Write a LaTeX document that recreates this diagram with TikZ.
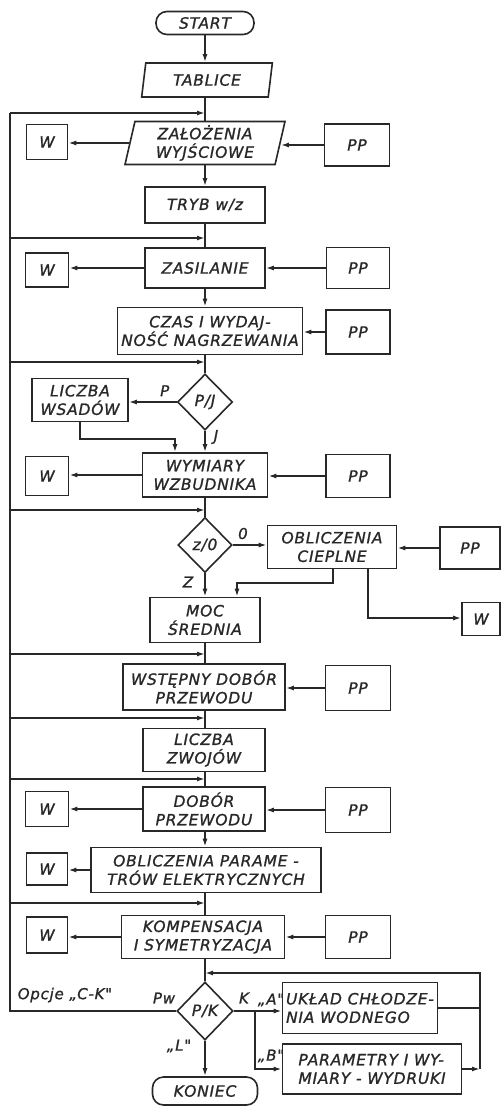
\documentclass[tikz,border=0pt]{standalone}
\usepackage{fontspec}
\setmainfont{DejaVu Sans}
\newfontfamily\lab[LetterSpace=5,FakeBold=1.2]{DejaVu Sans}
\usetikzlibrary{shapes.geometric,arrows.meta}
\definecolor{ink}{RGB}{40,40,40}
\begin{document}
\begin{tikzpicture}[x=1pt,y=-1pt,line width=1.6pt,color=ink,
  >={Latex[length=8pt,width=5pt]},
  box/.style={draw,rectangle,inner sep=0pt,align=center,
    font=\lab\itshape\fontsize{15.5}{18.5}\selectfont},
  io/.style={box,trapezium,trapezium left angle=79,trapezium right angle=101,trapezium stretches=true},
  dec/.style={box,diamond},
  term/.style={box,rounded corners=11pt},
  lbl/.style={inner sep=0pt,font=\lab\itshape\fontsize{15}{17}\selectfont}]
\useasboundingbox (0,0) rectangle (501,1107);
% nodes
\node[term,minimum width=98pt,minimum height=23pt] (start) at (205,23) {START};
\node[io,minimum width=131pt,minimum height=34pt] (tab) at (207,80) {TABLICE};
\node[io,minimum width=160pt,minimum height=43pt] (zal) at (205,143) {ZAŁOŻENIA\\WYJŚCIOWE};
\node[box,minimum width=41pt,minimum height=35pt] (w1) at (47,142) {W};
\node[box,minimum width=65pt,minimum height=42pt] (pp1) at (357,145) {PP};
\node[box,minimum width=120pt,minimum height=36pt] (tryb) at (205,205) {TRYB w/z};
\node[box,minimum width=120pt,minimum height=40pt] (zas) at (205,268) {ZASILANIE};
\node[box,minimum width=43pt,minimum height=34pt] (w2) at (47,270) {W};
\node[box,minimum width=63pt,minimum height=41pt] (pp2) at (358,268) {PP};
\node[box,minimum width=185pt,minimum height=47pt] (czas) at (210,331) {CZAS I WYDAJ-\\NOŚĆ NAGRZEWANIA};
\node[box,minimum width=64pt,minimum height=44pt] (pp3) at (358,332) {PP};
\node[dec,minimum width=55pt,minimum height=56pt] (pj) at (205,402) {P/J};
\node[box,minimum width=96pt,minimum height=43pt] (lw) at (80,400) {LICZBA\\WSADÓW};
\node[box,minimum width=125pt,minimum height=44pt] (wym) at (205,475) {WYMIARY\\WZBUDNIKA};
\node[box,minimum width=43pt,minimum height=39pt] (w3) at (47,476) {W};
\node[box,minimum width=64pt,minimum height=43pt] (pp4) at (358,476) {PP};
\node[dec,minimum width=54pt,minimum height=55pt] (z0) at (205,545) {z/0};
\node[box,minimum width=129pt,minimum height=43pt] (oc) at (332,547) {OBLICZENIA\\CIEPLNE};
\node[box,minimum width=60pt,minimum height=42pt] (pp5) at (470,548) {PP};
\node[box,minimum width=38pt,minimum height=33pt] (w4) at (481,619) {W};
\node[box,minimum width=110pt,minimum height=45pt] (moc) at (205,620) {MOC\\ŚREDNIA};
\node[box,minimum width=162pt,minimum height=46pt] (wst) at (204,687) {WSTĘPNY DOBÓR\\PRZEWODU};
\node[box,minimum width=65pt,minimum height=45pt] (pp6) at (358,688) {PP};
\node[box,minimum width=122pt,minimum height=43pt] (lz) at (204,750) {LICZBA\\ZWOJÓW};
\node[box,minimum width=122pt,minimum height=44pt] (dob) at (204,809) {DOBÓR\\PRZEWODU};
\node[box,minimum width=43pt,minimum height=35pt] (w5) at (47,809) {W};
\node[box,minimum width=65pt,minimum height=45pt] (pp7) at (358,810) {PP};
\node[box,minimum width=230pt,minimum height=45pt] (obp) at (206,870) {OBLICZENIA PARAME -\\TRÓW ELEKTRYCZNYCH};
\node[box,minimum width=41pt,minimum height=32pt] (w6) at (47,869) {W};
\node[box,minimum width=163pt,minimum height=43pt] (komp) at (203,937) {KOMPENSACJA\\I SYMETRYZACJA};
\node[box,minimum width=41pt,minimum height=36pt] (w7) at (47,935) {W};
\node[box,minimum width=65pt,minimum height=43pt] (pp8) at (358,937) {PP};
\node[dec,minimum width=56pt,minimum height=58pt] (pk) at (205,1011) {P/K};
\node[box,minimum width=155pt,minimum height=51pt,align=left] (uk) at (360,1008) {UKŁAD CHŁODZE-\\NIA WODNEGO};
\node[box,minimum width=179pt,minimum height=50pt,align=left] (par) at (372,1069) {PARAMETRY I WY-\\MIARY - WYDRUKI};
\node[term,minimum width=105pt,minimum height=28pt] (kon) at (205,1091) {KONIEC};
% helper coordinates
\coordinate (col) at (205,0);
\coordinate (busx) at (10,0);
\coordinate (retx) at (480,0);
\coordinate (kx) at (255,0);
\coordinate (f1) at (205,113);
\coordinate (f2) at (205,238);
\coordinate (f3) at (205,362);
\coordinate (f4) at (205,510);
\coordinate (f5) at (205,654);
\coordinate (f6) at (205,718);
\coordinate (f7) at (205,779);
\coordinate (f8) at (205,903);
\coordinate (r1) at (205,973);
\coordinate (lwy) at (0,439);
\coordinate (lwx) at (175,0);
\coordinate (ocy1) at (0,583);
\coordinate (ocy2) at (0,618);
\coordinate (ocx1) at (333,0);
\coordinate (ocx2) at (368,0);
\coordinate (mocx) at (237,0);
% main column
\draw[->] (start.south) -- (start.south |- tab.north);
\draw (tab.south -| col) -- (zal.north -| col);
\draw[->] (zal.south -| col) -- (tryb.north -| col);
\draw (tryb.south -| col) -- (zas.north -| col);
\draw[->] (zas.south -| col) -- (czas.north -| col);
\draw (czas.south -| col) -- (pj.north);
\draw[->] (pj.south) -- (wym.north -| col);
\draw (wym.south -| col) -- (z0.north);
\draw[->] (z0.south) -- (moc.north -| col);
\draw (moc.south -| col) -- (wst.north -| col);
\draw (wst.south -| col) -- (lz.north -| col);
\draw (lz.south -| col) -- (dob.north -| col);
\draw[->] (dob.south -| col) -- (obp.north -| col);
\draw (obp.south -| col) -- (komp.north -| col);
\draw (komp.south -| col) -- (pk.north);
\draw[->] (pk.south) -- (kon.north);
% side boxes
\draw[->] (zal.west) -- (w1.east |- zal.west);
\draw[->] (pp1.west) -- (zal.east |- pp1.west);
\draw[->] (zas.west) -- (w2.east |- zas.west);
\draw[->] (pp2.west) -- (zas.east |- pp2.west);
\draw[->] (pp3.west) -- (czas.east |- pp3.west);
\draw[->] (wym.west) -- (w3.east |- wym.west);
\draw[->] (pp4.west) -- (wym.east |- pp4.west);
\draw[->] (pp5.west) -- (oc.east |- pp5.west);
\draw[->] (pp6.west) -- (wst.east |- pp6.west);
\draw[->] (dob.west) -- (w5.east |- dob.west);
\draw[->] (pp7.west) -- (dob.east |- pp7.west);
\draw[->] (obp.west) -- (w6.east |- obp.west);
\draw[->] (komp.west) -- (w7.east |- komp.west);
\draw[->] (pp8.west) -- (komp.east |- pp8.west);
% P/J branch
\draw[->] (pj.west) -- (lw.east |- pj.west) node[lbl,pos=0.25,above=5pt] {P};
\node[lbl] (lj) at (216,437) {J};
\draw[->] (lw.south) -- (lw.south |- lwy) -- (lwx |- lwy) -- (lwx |- wym.north);
% z/0 branch
\draw[->] (z0.east) -- (oc.west |- z0.east) node[lbl,pos=0.3,above=5pt] {0};
\node[lbl] (lz0) at (188,582) {Z};
\draw[->] (oc.south -| ocx1) -- (ocx1 |- ocy1) -- (mocx |- ocy1) -- (mocx |- moc.north);
\draw[->] (oc.south -| ocx2) -- (ocx2 |- ocy2) -- (w4.west |- ocy2);
% feedback bus
\draw (pk.west) -- (pk.west -| busx) -- (f1 -| busx);
\draw[->] (f1 -| busx) -- (f1);
\draw[->] (f2 -| busx) -- (f2);
\draw[->] (f3 -| busx) -- (f3);
\draw[->] (f4 -| busx) -- (f4);
\draw[->] (f5 -| busx) -- (f5);
\draw[->] (f6 -| busx) -- (f6);
\draw[->] (f7 -| busx) -- (f7);
\draw[->] (f8 -| busx) -- (f8);
\node[lbl,anchor=west] (opc) at (17,995) {Opcje „C-K"};
\node[lbl] (lpw) at (164,998) {Pw};
\node[lbl] (lk) at (244,998) {K};
\node[lbl] (ll) at (179,1046) {„L"};
% K branch
\draw (pk.east) -- (pk.east -| kx);
\draw[->] (pk.east -| kx) -- (pk.east -| uk.west);
\draw[->] (pk.east -| kx) |- (par.west);
\node[lbl] (la) at (271,1000) {„A"};
\node[lbl] (lb) at (271,1056) {„B"};
% return loop
\draw (uk.east) -- (uk.east -| retx);
\draw[->] (par.east) -- (par.east -| retx);
\draw[->] (par.east -| retx) -- (r1 -| retx) -- (r1);
\end{tikzpicture}
\end{document}
